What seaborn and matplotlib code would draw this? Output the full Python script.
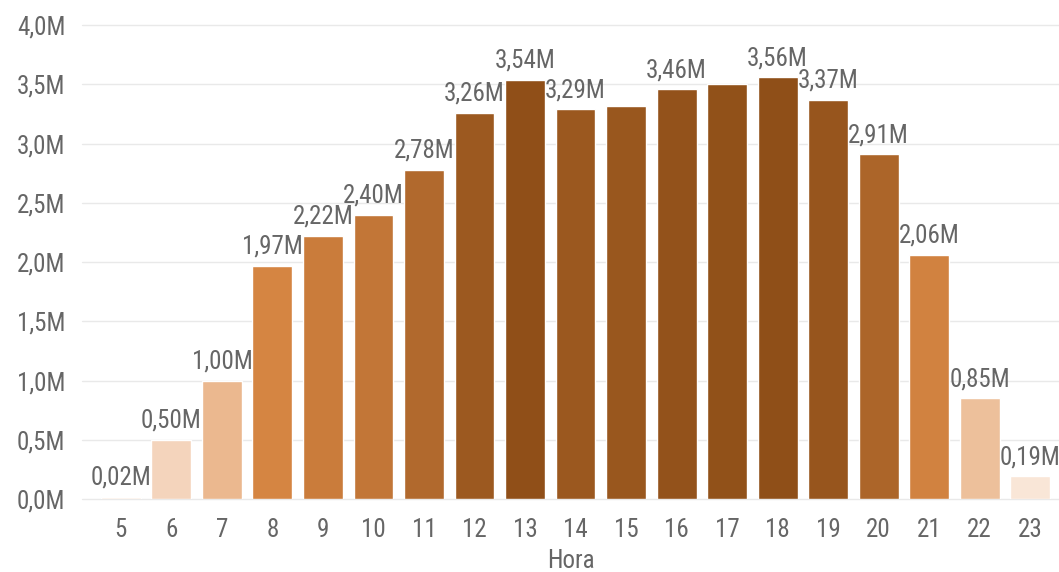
import matplotlib
matplotlib.use("Agg")
import matplotlib.pyplot as plt
import matplotlib.colors as mcolors
import seaborn as sns
import pandas as pd

# data (millions)
horas = [5, 6, 7, 8, 9, 10, 11, 12, 13, 14, 15, 16, 17, 18, 19, 20, 21, 22, 23]
valores = [0.02, 0.50, 1.00, 1.97, 2.22, 2.40, 2.78, 3.26, 3.54, 3.29,
           3.32, 3.46, 3.50, 3.56, 3.37, 2.91, 2.06, 0.85, 0.19]
# labels power bi hid because of overlap
sin_etiqueta = [15, 17]
yticks = [0, 0.5, 1.0, 1.5, 2.0, 2.5, 3.0, 3.5, 4.0]

sns.set_theme(style="white")
plt.rcParams['font.family'] = ['Roboto Condensed', 'DejaVu Sans']
plt.rcParams['font.stretch'] = 'condensed'

df = pd.DataFrame({'Hora': [str(h) for h in horas], 'valor': valores})

# 3 stop gradient like the power bi conditional colours
cmap = mcolors.LinearSegmentedColormap.from_list(
    'pbi', ['#fcefe6', '#dd8b47', '#8f4f18'])
norm = mcolors.Normalize(vmin=min(valores), vmax=max(valores))
palette = {str(h): cmap(norm(v)) for h, v in zip(horas, valores)}

fig = plt.figure(figsize=(10.59, 5.72), dpi=100)
ax = fig.add_axes([0.0774, 0.1276, 0.9226, 0.8287])

sns.barplot(data=df, x='Hora', y='valor', hue='Hora', palette=palette,
            width=0.79, legend=False, ax=ax, saturation=1)

gris = '#666666'
for i, (h, v) in enumerate(zip(horas, valores)):
    if h in sin_etiqueta:
        continue
    ax.annotate(f"{v:.2f}M".replace('.', ','), (i, v), xytext=(0, 5),
                textcoords='offset points', ha='center', va='bottom',
                fontsize=18, color=gris)

ax.set_ylim(0, 4.0)
ax.set_xlim(-0.77, 18.57)
ax.set_yticks(yticks)
ax.set_yticklabels([f"{t:.1f}M".replace('.', ',') for t in yticks])
ax.yaxis.grid(True, color='#e9e9e9', linewidth=1)
for gl in ax.get_ygridlines():
    gl.set_clip_on(False)
ax.set_axisbelow(True)
for s in ax.spines.values():
    s.set_visible(False)
ax.tick_params(axis='y', length=0, pad=12, labelsize=18, labelcolor=gris)
ax.tick_params(axis='x', length=0, pad=14, labelsize=18, labelcolor=gris)
ax.set_ylabel('')
ax.set_xlabel('Hora', fontsize=18, color=gris, labelpad=5)

fig.savefig('out.png', dpi=100, facecolor='white')
